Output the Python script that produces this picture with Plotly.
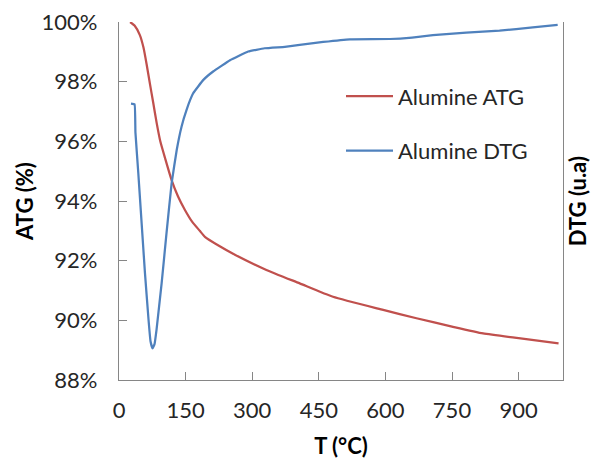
import plotly.graph_objects as go

# ATG curve (temperature °C, mass %)
atg_t = [25, 35, 47, 55, 62, 70, 77, 85, 93, 103.5, 118.5, 133, 148.5, 165, 182, 193.5,
         225, 261, 332, 407, 482, 595, 670, 750, 820, 900, 990]
atg_v = [100.0, 99.88, 99.56, 99.15, 98.6, 97.9, 97.3, 96.6, 96.0, 95.45, 94.70, 94.15, 93.7, 93.3, 93.0, 92.8,
         92.5, 92.2, 91.69, 91.24, 90.79, 90.35, 90.07, 89.79, 89.56, 89.40, 89.23]

# DTG curve (temperature °C, arbitrary units shown on hidden secondary axis)
dtg_t = [27, 35, 37, 43.5, 51, 58.5, 66, 71, 75.5, 80, 84.5, 96, 107, 118.5, 130, 141, 152, 167,
         190, 212, 250, 291, 328, 373.5, 407, 460, 520, 610, 660, 707, 782, 857, 932, 988]
dtg_v = [97.26, 97.24, 96.3, 94.93, 93.25, 91.58, 90.12, 89.3, 89.06, 89.2, 89.68, 91.24, 92.92, 94.59, 95.71, 96.5, 97.05, 97.61,
         98.06, 98.34, 98.72, 99.01, 99.12, 99.17, 99.23, 99.33, 99.42, 99.43, 99.48, 99.56, 99.64, 99.71, 99.82, 99.9]

x_ticks = [0, 150, 300, 450, 600, 750, 900]
y_ticks = [88, 90, 92, 94, 96, 98, 100]
y_labels = ["88%", "90%", "92%", "94%", "96%", "98%", "100%"]

FONT = "Lato"
AXIS_COLOR = "#868686"

fig = go.Figure()
fig.add_trace(go.Scatter(x=atg_t, y=atg_v, mode="lines", name="Alumine ATG",
                         line=dict(color="#C0504D", width=2.25, shape="spline", smoothing=0.5),
                         legendgroup="a"))
fig.add_trace(go.Scatter(x=dtg_t, y=dtg_v, mode="lines", name="Alumine DTG", yaxis="y2",
                         line=dict(color="#4F81BD", width=2.25, shape="spline", smoothing=0.3),
                         legendgroup="b"))

fig.update_layout(
    width=594, height=459,
    margin=dict(l=119, r=31, t=22, b=79, autoexpand=False),
    paper_bgcolor="white", plot_bgcolor="white",
    font=dict(family=FONT, size=22, color="#262626"),
    showlegend=True,
    legend=dict(x=0.5, y=0.851, xanchor="left", yanchor="top",
                bgcolor="rgba(0,0,0,0)", tracegroupgap=23, itemwidth=47,
                font=dict(family=FONT, size=22, color="#262626")),
    xaxis=dict(range=[0, 1000], tickvals=x_ticks, ticks="inside", ticklen=8, automargin=False,
               tickcolor=AXIS_COLOR, showline=True, linecolor=AXIS_COLOR, linewidth=1.3,
               showgrid=False, zeroline=False, ticklabelstandoff=10, ticklabeloverflow="allow",
               title=dict(text="<b>T (°C)</b>", font=dict(size=22, color="#000000"), standoff=18)),
    yaxis=dict(range=[88, 100], tickvals=y_ticks, ticktext=y_labels, ticks="inside", ticklen=8,
               automargin=False, ticklabeloverflow="allow",
               tickcolor=AXIS_COLOR, showline=True, linecolor=AXIS_COLOR, linewidth=1.3,
               showgrid=False, zeroline=False, ticklabelstandoff=16),
    yaxis2=dict(range=[88, 100], overlaying="y", side="right", showticklabels=False,
                ticks="", showline=True, linecolor=AXIS_COLOR, linewidth=1.3, automargin=False,
                showgrid=False, zeroline=False),
    annotations=[
        dict(text="<b>ATG (%)</b>", textangle=-90, xref="paper", yref="paper",
             x=-0.214, y=0.5, xanchor="center", yanchor="middle", showarrow=False,
             font=dict(family=FONT, size=22, color="#000000")),
        dict(text="<b>DTG (u.a)</b>", textangle=-90, xref="paper", yref="paper",
             x=1.067, y=0.5, xanchor="right", yanchor="middle", showarrow=False,
             font=dict(family=FONT, size=22, color="#000000")),
    ],
)

fig.write_html(
    "out.html",
    config={"displayModeBar": False},
    post_script="document.body.style.margin='0';document.documentElement.style.overflow='hidden';",
)
